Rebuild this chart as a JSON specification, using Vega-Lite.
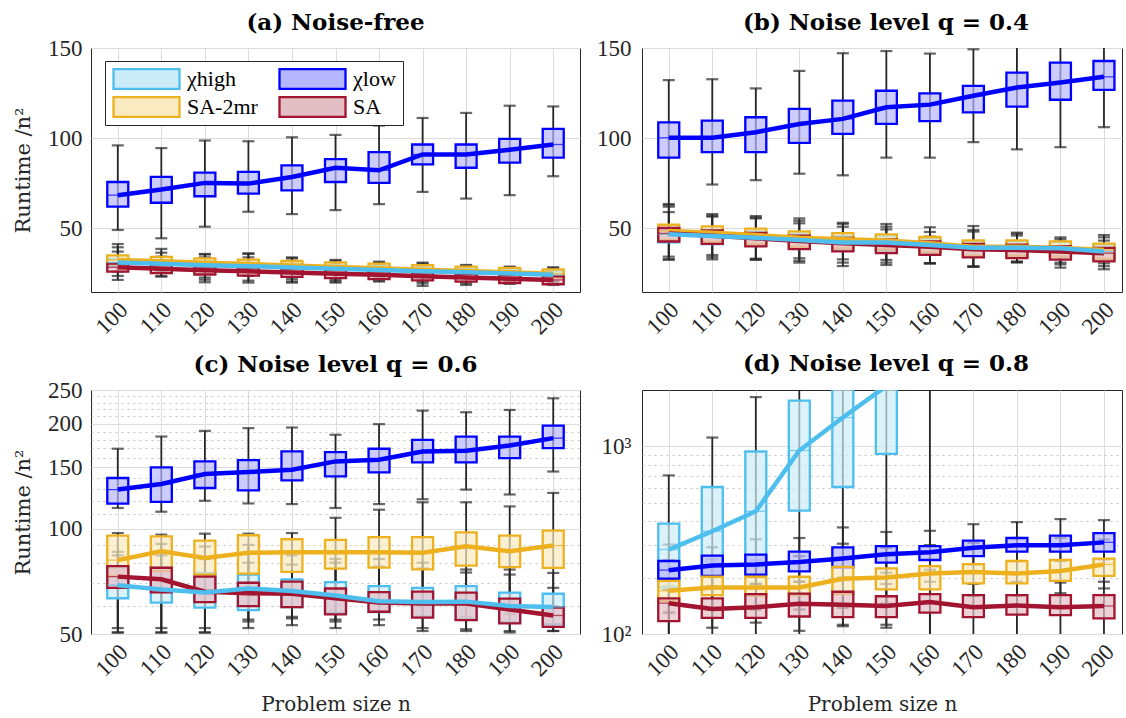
{
"$schema": "https://vega.github.io/schema/vega-lite/v6.json",
"background": "white",
"padding": {"left": 11, "top": 11, "right": 0, "bottom": 0},
"datasets": {"d": [
{"p":"a","n":100,"g":"χhigh","lo":23.6,"q1":29,"m":31,"q3":33,"hi":39.5},
{"p":"a","n":110,"g":"χhigh","lo":23.6,"q1":28.3,"m":30.3,"q3":32.3,"hi":36.5},
{"p":"a","n":120,"g":"χhigh","lo":21.5,"q1":27.6,"m":29.6,"q3":31.6,"hi":35.5},
{"p":"a","n":130,"g":"χhigh","lo":21,"q1":27,"m":29,"q3":31,"hi":35.8},
{"p":"a","n":140,"g":"χhigh","lo":20.5,"q1":26.3,"m":28.3,"q3":30.3,"hi":33.5},
{"p":"a","n":150,"g":"χhigh","lo":20.5,"q1":25.6,"m":27.6,"q3":29.6,"hi":32},
{"p":"a","n":160,"g":"χhigh","lo":21,"q1":24.9,"m":26.9,"q3":28.9,"hi":31},
{"p":"a","n":170,"g":"χhigh","lo":19.5,"q1":24.2,"m":26.2,"q3":28.2,"hi":30.5},
{"p":"a","n":180,"g":"χhigh","lo":19.5,"q1":23.6,"m":25.6,"q3":27.6,"hi":29.3},
{"p":"a","n":190,"g":"χhigh","lo":20,"q1":22.9,"m":24.9,"q3":26.9,"hi":28.4},
{"p":"a","n":200,"g":"χhigh","lo":20,"q1":22.2,"m":24.2,"q3":26.2,"hi":28},
{"p":"a","n":100,"g":"χlow","lo":49.1,"q1":62,"m":68.4,"q3":75.7,"hi":96},
{"p":"a","n":110,"g":"χlow","lo":44.5,"q1":64.2,"m":71.5,"q3":78.5,"hi":94.5},
{"p":"a","n":120,"g":"χlow","lo":50.9,"q1":67.8,"m":75.2,"q3":80.9,"hi":98.7},
{"p":"a","n":130,"g":"χlow","lo":59.2,"q1":69.3,"m":74.8,"q3":81.3,"hi":98.3},
{"p":"a","n":140,"g":"χlow","lo":57.9,"q1":71.1,"m":78.5,"q3":84.9,"hi":100.5},
{"p":"a","n":150,"g":"χlow","lo":60.1,"q1":75.7,"m":83.6,"q3":88.4,"hi":101.8},
{"p":"a","n":160,"g":"χlow","lo":63.4,"q1":75.2,"m":82.2,"q3":92.3,"hi":107},
{"p":"a","n":170,"g":"χlow","lo":70.2,"q1":85.5,"m":91,"q3":96.5,"hi":111.2},
{"p":"a","n":180,"g":"χlow","lo":66.5,"q1":83.6,"m":91,"q3":96.5,"hi":114},
{"p":"a","n":190,"g":"χlow","lo":68.4,"q1":86.4,"m":93.6,"q3":99.6,"hi":118},
{"p":"a","n":200,"g":"χlow","lo":78.9,"q1":89.2,"m":96.5,"q3":105.1,"hi":117.6},
{"p":"a","n":100,"g":"SA-2mr","lo":26,"q1":30,"m":32.5,"q3":35,"hi":41.3},
{"p":"a","n":110,"g":"SA-2mr","lo":26.4,"q1":29.2,"m":31.7,"q3":34.2,"hi":38.6},
{"p":"a","n":120,"g":"SA-2mr","lo":22.7,"q1":28.4,"m":30.9,"q3":33.4,"hi":35.8},
{"p":"a","n":130,"g":"SA-2mr","lo":23.6,"q1":27.7,"m":30.2,"q3":32.7,"hi":36.2},
{"p":"a","n":140,"g":"SA-2mr","lo":21.8,"q1":26.9,"m":29.4,"q3":31.9,"hi":33.9},
{"p":"a","n":150,"g":"SA-2mr","lo":21.4,"q1":26.1,"m":28.6,"q3":31.1,"hi":32.5},
{"p":"a","n":160,"g":"SA-2mr","lo":22.3,"q1":25.4,"m":27.9,"q3":30.4,"hi":31.5},
{"p":"a","n":170,"g":"SA-2mr","lo":20.5,"q1":24.6,"m":27.1,"q3":29.6,"hi":31},
{"p":"a","n":180,"g":"SA-2mr","lo":20.5,"q1":23.8,"m":26.3,"q3":28.8,"hi":29.7},
{"p":"a","n":190,"g":"SA-2mr","lo":20.8,"q1":23.1,"m":25.6,"q3":28.1,"hi":28.8},
{"p":"a","n":200,"g":"SA-2mr","lo":20.8,"q1":22.3,"m":24.8,"q3":27.3,"hi":28.4},
{"p":"a","n":100,"g":"SA","lo":21.4,"q1":26,"m":28.4,"q3":30.4,"hi":37.1},
{"p":"a","n":110,"g":"SA","lo":23.2,"q1":25.2,"m":27.6,"q3":29.6,"hi":34.3},
{"p":"a","n":120,"g":"SA","lo":20.1,"q1":24.4,"m":26.8,"q3":28.8,"hi":33.9},
{"p":"a","n":130,"g":"SA","lo":19.9,"q1":23.8,"m":26.2,"q3":28.2,"hi":33.9},
{"p":"a","n":140,"g":"SA","lo":19.9,"q1":23.1,"m":25.5,"q3":27.5,"hi":32.1},
{"p":"a","n":150,"g":"SA","lo":19.9,"q1":22.4,"m":24.8,"q3":26.8,"hi":30.1},
{"p":"a","n":160,"g":"SA","lo":20.5,"q1":21.8,"m":24.2,"q3":26.2,"hi":29.7},
{"p":"a","n":170,"g":"SA","lo":18.1,"q1":21.1,"m":23.5,"q3":25.5,"hi":28.8},
{"p":"a","n":180,"g":"SA","lo":18.6,"q1":20.4,"m":22.8,"q3":24.8,"hi":26.9},
{"p":"a","n":190,"g":"SA","lo":19.2,"q1":19.7,"m":22.1,"q3":24.1,"hi":26.9},
{"p":"a","n":200,"g":"SA","lo":18.6,"q1":19,"m":21.4,"q3":23.4,"hi":26},
{"p":"b","n":100,"g":"χhigh","lo":33,"q1":42.2,"m":46.7,"q3":50.2,"hi":62},
{"p":"b","n":110,"g":"χhigh","lo":34,"q1":41.3,"m":45.8,"q3":49.3,"hi":57},
{"p":"b","n":120,"g":"χhigh","lo":32.5,"q1":40.3,"m":44.8,"q3":48.3,"hi":56},
{"p":"b","n":130,"g":"χhigh","lo":31,"q1":39,"m":43.5,"q3":47,"hi":54.2},
{"p":"b","n":140,"g":"χhigh","lo":29.1,"q1":37.6,"m":42.1,"q3":45.6,"hi":52.5},
{"p":"b","n":150,"g":"χhigh","lo":29.7,"q1":37.7,"m":42.2,"q3":45.7,"hi":50.9},
{"p":"b","n":160,"g":"χhigh","lo":30.6,"q1":36.3,"m":40.8,"q3":44.3,"hi":48},
{"p":"b","n":170,"g":"χhigh","lo":28.8,"q1":34.8,"m":39.3,"q3":42.8,"hi":49},
{"p":"b","n":180,"g":"χhigh","lo":31,"q1":34.8,"m":39.3,"q3":42.8,"hi":47},
{"p":"b","n":190,"g":"χhigh","lo":28.2,"q1":34.4,"m":38.9,"q3":42.4,"hi":44},
{"p":"b","n":200,"g":"χhigh","lo":27.3,"q1":32.6,"m":37.1,"q3":40.6,"hi":45},
{"p":"b","n":100,"g":"χlow","lo":62.9,"q1":89.2,"m":100.2,"q3":108.8,"hi":132.2},
{"p":"b","n":110,"g":"χlow","lo":74.3,"q1":92.3,"m":100.2,"q3":109.7,"hi":132.7},
{"p":"b","n":120,"g":"χlow","lo":76.7,"q1":92.3,"m":103.3,"q3":111.6,"hi":127.6},
{"p":"b","n":130,"g":"χlow","lo":80.3,"q1":97.4,"m":107.9,"q3":116.2,"hi":137.3},
{"p":"b","n":140,"g":"χlow","lo":79.4,"q1":102.4,"m":110.7,"q3":120.8,"hi":147.1},
{"p":"b","n":150,"g":"χlow","lo":89.2,"q1":107.9,"m":117.1,"q3":126.3,"hi":148.3},
{"p":"b","n":160,"g":"χlow","lo":89.2,"q1":109.4,"m":118.6,"q3":124.8,"hi":146.9},
{"p":"b","n":170,"g":"χlow","lo":97.8,"q1":114.3,"m":123.5,"q3":129,"hi":149.3},
{"p":"b","n":180,"g":"χlow","lo":93.8,"q1":117.5,"m":128.1,"q3":136.4,"hi":155},
{"p":"b","n":190,"g":"χlow","lo":95,"q1":121.3,"m":130.9,"q3":141.9,"hi":158},
{"p":"b","n":200,"g":"χlow","lo":106.1,"q1":126.8,"m":134,"q3":142.8,"hi":160},
{"p":"b","n":100,"g":"SA-2mr","lo":34.3,"q1":43.5,"m":48.5,"q3":52,"hi":63.5},
{"p":"b","n":110,"g":"SA-2mr","lo":35.2,"q1":42.6,"m":47.6,"q3":51.1,"hi":57.9},
{"p":"b","n":120,"g":"SA-2mr","lo":33.2,"q1":41.3,"m":46.3,"q3":49.8,"hi":56.8},
{"p":"b","n":130,"g":"SA-2mr","lo":33.4,"q1":39.8,"m":44.8,"q3":48.3,"hi":55.5},
{"p":"b","n":140,"g":"SA-2mr","lo":32.8,"q1":38.9,"m":43.9,"q3":47.4,"hi":53.1},
{"p":"b","n":150,"g":"SA-2mr","lo":32.5,"q1":38.2,"m":43.2,"q3":46.7,"hi":52.4},
{"p":"b","n":160,"g":"SA-2mr","lo":30.6,"q1":36.7,"m":41.7,"q3":45.2,"hi":50.6},
{"p":"b","n":170,"g":"SA-2mr","lo":28.8,"q1":34.8,"m":39.8,"q3":43.3,"hi":51.3},
{"p":"b","n":180,"g":"SA-2mr","lo":31.5,"q1":34.8,"m":39.8,"q3":43.3,"hi":47.6},
{"p":"b","n":190,"g":"SA-2mr","lo":31,"q1":34.3,"m":39.3,"q3":42.8,"hi":45},
{"p":"b","n":200,"g":"SA-2mr","lo":30.6,"q1":33,"m":38,"q3":41.5,"hi":46.3},
{"p":"b","n":100,"g":"SA","lo":32.5,"q1":42.7,"m":47.2,"q3":50.2,"hi":59},
{"p":"b","n":110,"g":"SA","lo":32.8,"q1":41.4,"m":45.9,"q3":48.9,"hi":56.5},
{"p":"b","n":120,"g":"SA","lo":32.8,"q1":40,"m":44.5,"q3":47.5,"hi":55.5},
{"p":"b","n":130,"g":"SA","lo":32,"q1":38.5,"m":43,"q3":46,"hi":52.8},
{"p":"b","n":140,"g":"SA","lo":31,"q1":37.2,"m":41.7,"q3":44.7,"hi":50.9},
{"p":"b","n":150,"g":"SA","lo":31,"q1":36.3,"m":40.8,"q3":43.8,"hi":49.4},
{"p":"b","n":160,"g":"SA","lo":30.6,"q1":35.3,"m":39.8,"q3":42.8,"hi":45.4},
{"p":"b","n":170,"g":"SA","lo":28.8,"q1":33.9,"m":38.4,"q3":41.4,"hi":48.2},
{"p":"b","n":180,"g":"SA","lo":31.5,"q1":33.5,"m":38,"q3":41,"hi":46},
{"p":"b","n":190,"g":"SA","lo":30,"q1":32.6,"m":37.1,"q3":40.1,"hi":42.6},
{"p":"b","n":200,"g":"SA","lo":29,"q1":31.7,"m":36.2,"q3":39.2,"hi":43.2},
{"p":"c","n":100,"g":"χhigh","lo":50.5,"q1":63.3,"m":69,"q3":77.4,"hi":84},
{"p":"c","n":110,"g":"χhigh","lo":50.5,"q1":61.5,"m":67.1,"q3":77.4,"hi":84},
{"p":"c","n":120,"g":"χhigh","lo":50.5,"q1":59.5,"m":65.7,"q3":74.8,"hi":82},
{"p":"c","n":130,"g":"χhigh","lo":52,"q1":58.5,"m":67.5,"q3":74,"hi":80},
{"p":"c","n":140,"g":"χhigh","lo":53,"q1":59.7,"m":66.4,"q3":71.7,"hi":79},
{"p":"c","n":150,"g":"χhigh","lo":52,"q1":57.5,"m":64.5,"q3":70.4,"hi":80},
{"p":"c","n":160,"g":"χhigh","lo":53,"q1":57.8,"m":62.1,"q3":68.6,"hi":78},
{"p":"c","n":170,"g":"χhigh","lo":52,"q1":56.1,"m":61.7,"q3":67.8,"hi":77},
{"p":"c","n":180,"g":"χhigh","lo":51,"q1":55.1,"m":61.9,"q3":68.6,"hi":75},
{"p":"c","n":190,"g":"χhigh","lo":51,"q1":53.9,"m":60.1,"q3":65.7,"hi":74},
{"p":"c","n":200,"g":"χhigh","lo":51,"q1":53.3,"m":59.7,"q3":65.2,"hi":74.8},
{"p":"c","n":100,"g":"χlow","lo":114.8,"q1":118.1,"m":129.6,"q3":139.9,"hi":169.7},
{"p":"c","n":110,"g":"χlow","lo":112,"q1":119.5,"m":134.5,"q3":150,"hi":183.9},
{"p":"c","n":120,"g":"χlow","lo":120.4,"q1":131,"m":143.6,"q3":156.1,"hi":190.9},
{"p":"c","n":130,"g":"χlow","lo":118.3,"q1":128.9,"m":145.5,"q3":157.5,"hi":194.4},
{"p":"c","n":140,"g":"χlow","lo":117.8,"q1":137.7,"m":147.8,"q3":166.7,"hi":195.2},
{"p":"c","n":150,"g":"χlow","lo":114.8,"q1":141.4,"m":156.1,"q3":166,"hi":186.1},
{"p":"c","n":160,"g":"χlow","lo":117.8,"q1":145.2,"m":157.8,"q3":169.7,"hi":199.6},
{"p":"c","n":170,"g":"χlow","lo":121.6,"q1":155,"m":166.7,"q3":180,"hi":218.2},
{"p":"c","n":180,"g":"χlow","lo":129.6,"q1":155,"m":167.4,"q3":183.9,"hi":215.9},
{"p":"c","n":190,"g":"χlow","lo":125.5,"q1":159.6,"m":173.4,"q3":183.9,"hi":219.2},
{"p":"c","n":200,"g":"χlow","lo":146,"q1":170.4,"m":182,"q3":197.7,"hi":236.7},
{"p":"c","n":100,"g":"SA-2mr","lo":52,"q1":73.2,"m":81.4,"q3":95.7,"hi":97.3},
{"p":"c","n":110,"g":"SA-2mr","lo":52,"q1":75.7,"m":86.3,"q3":95.2,"hi":96.3},
{"p":"c","n":120,"g":"SA-2mr","lo":52,"q1":74,"m":82.6,"q3":92.6,"hi":96.9},
{"p":"c","n":130,"g":"SA-2mr","lo":55,"q1":74.5,"m":85.4,"q3":95.9,"hi":96.9},
{"p":"c","n":140,"g":"SA-2mr","lo":56,"q1":75.3,"m":85.8,"q3":93.4,"hi":97.3},
{"p":"c","n":150,"g":"SA-2mr","lo":55,"q1":77,"m":85.8,"q3":93,"hi":107.6},
{"p":"c","n":160,"g":"SA-2mr","lo":58,"q1":77.5,"m":85.8,"q3":94.7,"hi":113.5},
{"p":"c","n":170,"g":"SA-2mr","lo":60,"q1":76.6,"m":85.4,"q3":94.7,"hi":119.2},
{"p":"c","n":180,"g":"SA-2mr","lo":56,"q1":78.5,"m":89.2,"q3":97.8,"hi":119.2},
{"p":"c","n":190,"g":"SA-2mr","lo":57,"q1":77.7,"m":86.3,"q3":95.7,"hi":116},
{"p":"c","n":200,"g":"SA-2mr","lo":60,"q1":77.3,"m":89.6,"q3":98.9,"hi":126.8},
{"p":"c","n":100,"g":"SA","lo":50.5,"q1":67.8,"m":73,"q3":78.2,"hi":86},
{"p":"c","n":110,"g":"SA","lo":50.5,"q1":65.8,"m":71.7,"q3":77.4,"hi":90.6},
{"p":"c","n":120,"g":"SA","lo":50.5,"q1":61.7,"m":66.1,"q3":73,"hi":89},
{"p":"c","n":130,"g":"SA","lo":54.3,"q1":60.1,"m":65.4,"q3":70.1,"hi":90},
{"p":"c","n":140,"g":"SA","lo":55.4,"q1":59.7,"m":65.2,"q3":70.6,"hi":84},
{"p":"c","n":150,"g":"SA","lo":54.3,"q1":56.9,"m":63.3,"q3":67.5,"hi":82},
{"p":"c","n":160,"g":"SA","lo":55,"q1":57.9,"m":61.5,"q3":65.9,"hi":82},
{"p":"c","n":170,"g":"SA","lo":51,"q1":55.7,"m":61.1,"q3":66.1,"hi":80},
{"p":"c","n":180,"g":"SA","lo":51.6,"q1":54.8,"m":61.1,"q3":65.7,"hi":76.5},
{"p":"c","n":190,"g":"SA","lo":50.5,"q1":53.6,"m":58.8,"q3":63.1,"hi":76.5},
{"p":"c","n":200,"g":"SA","lo":51,"q1":52.4,"m":56.5,"q3":59.5,"hi":67.8},
{"p":"d","n":100,"g":"χhigh","lo":95,"q1":177,"m":282,"q3":388,"hi":701},
{"p":"d","n":110,"g":"χhigh","lo":98,"q1":204,"m":353,"q3":608,"hi":1116},
{"p":"d","n":120,"g":"χhigh","lo":98,"q1":230,"m":451,"q3":940,"hi":1833},
{"p":"d","n":130,"g":"χhigh","lo":96,"q1":455,"m":952,"q3":1757,"hi":3500},
{"p":"d","n":140,"g":"χhigh","lo":112,"q1":608,"m":1426,"q3":2600,"hi":5000},
{"p":"d","n":150,"g":"χhigh","lo":112,"q1":914,"m":2100,"q3":4000,"hi":8000},
{"p":"d","n":160,"g":"χhigh","lo":95,"q1":2600,"m":4500,"q3":8000,"hi":20000},
{"p":"d","n":170,"g":"χhigh","lo":2500,"q1":5000,"m":7000,"q3":10000,"hi":20000},
{"p":"d","n":180,"g":"χhigh","lo":3000,"q1":6000,"m":9000,"q3":13000,"hi":25000},
{"p":"d","n":190,"g":"χhigh","lo":3500,"q1":7000,"m":11000,"q3":16000,"hi":30000},
{"p":"d","n":200,"g":"χhigh","lo":4000,"q1":8000,"m":13000,"q3":19000,"hi":35000},
{"p":"d","n":100,"g":"χlow","lo":172,"q1":197,"m":219,"q3":245,"hi":300},
{"p":"d","n":110,"g":"χlow","lo":180,"q1":204,"m":232,"q3":262,"hi":290},
{"p":"d","n":120,"g":"χlow","lo":185,"q1":207,"m":235,"q3":265,"hi":320},
{"p":"d","n":130,"g":"χlow","lo":190,"q1":216,"m":242,"q3":275,"hi":325},
{"p":"d","n":140,"g":"χlow","lo":200,"q1":226,"m":253,"q3":290,"hi":370},
{"p":"d","n":150,"g":"χlow","lo":212,"q1":240,"m":266,"q3":294,"hi":350},
{"p":"d","n":160,"g":"χlow","lo":220,"q1":248,"m":273,"q3":294,"hi":355},
{"p":"d","n":170,"g":"χlow","lo":235,"q1":260,"m":288,"q3":315,"hi":385},
{"p":"d","n":180,"g":"χlow","lo":245,"q1":275,"m":297,"q3":325,"hi":395},
{"p":"d","n":190,"g":"χlow","lo":245,"q1":275,"m":297,"q3":335,"hi":410},
{"p":"d","n":200,"g":"χlow","lo":250,"q1":275,"m":308,"q3":345,"hi":405},
{"p":"d","n":100,"g":"SA-2mr","lo":130,"q1":150,"m":170,"q3":192,"hi":248},
{"p":"d","n":110,"g":"SA-2mr","lo":135,"q1":161,"m":177,"q3":202,"hi":250},
{"p":"d","n":120,"g":"SA-2mr","lo":135,"q1":160,"m":177,"q3":202,"hi":248},
{"p":"d","n":130,"g":"SA-2mr","lo":135,"q1":161,"m":177,"q3":202,"hi":260},
{"p":"d","n":140,"g":"SA-2mr","lo":138,"q1":163,"m":197,"q3":228,"hi":303},
{"p":"d","n":150,"g":"SA-2mr","lo":145,"q1":173,"m":200,"q3":224,"hi":288},
{"p":"d","n":160,"g":"SA-2mr","lo":148,"q1":173,"m":210,"q3":230,"hi":298},
{"p":"d","n":170,"g":"SA-2mr","lo":160,"q1":186,"m":214,"q3":236,"hi":306},
{"p":"d","n":180,"g":"SA-2mr","lo":160,"q1":186,"m":210,"q3":245,"hi":325},
{"p":"d","n":190,"g":"SA-2mr","lo":165,"q1":192,"m":217,"q3":248,"hi":325},
{"p":"d","n":200,"g":"SA-2mr","lo":175,"q1":204,"m":235,"q3":252,"hi":319},
{"p":"d","n":100,"g":"SA","lo":92,"q1":117,"m":146,"q3":155,"hi":180},
{"p":"d","n":110,"g":"SA","lo":108,"q1":122,"m":136,"q3":155,"hi":175},
{"p":"d","n":120,"g":"SA","lo":115,"q1":122,"m":139,"q3":163,"hi":185},
{"p":"d","n":130,"g":"SA","lo":104,"q1":124,"m":145,"q3":164,"hi":190},
{"p":"d","n":140,"g":"SA","lo":110,"q1":123,"m":143,"q3":168,"hi":195},
{"p":"d","n":150,"g":"SA","lo":108,"q1":123,"m":141,"q3":159,"hi":185},
{"p":"d","n":160,"g":"SA","lo":95,"q1":130,"m":148,"q3":163,"hi":190},
{"p":"d","n":170,"g":"SA","lo":95,"q1":123,"m":139,"q3":161,"hi":185},
{"p":"d","n":180,"g":"SA","lo":95,"q1":127,"m":142,"q3":161,"hi":190},
{"p":"d","n":190,"g":"SA","lo":95,"q1":126,"m":139,"q3":161,"hi":188},
{"p":"d","n":200,"g":"SA","lo":95,"q1":121,"m":141,"q3":161,"hi":190}
]},
"data": {"name": "d"},
"columns": 2,
"spacing": {"row": 98, "column": 62},
"bounds": "flush",
"resolve": {"scale": {"fill": "independent", "stroke": "independent", "color": "independent"}, "legend": {"fill": "independent", "stroke": "independent", "color": "independent"}},
"concat": [
{
 "title": {"text": "(a) Noise-free"},
 "width": 489, "height": 244,
 "transform": [{"filter": "datum.p == 'a'"}],
 "encoding": {"x": {"field": "n", "type": "quantitative", "scale": {"domain": [95, 205], "nice": false, "zero": false},
   "axis": {"values": [100,110,120,130,140,150,160,170,180,190,200], "labelAngle": -45, "labelAlign": "right", "labelBaseline": "middle", "labelPadding": 14, "labelOffset": 6, "title": null, "minExtent": 50, "maxExtent": 50}}},
 "layer": [
  {"mark": {"type": "rule", "color": "#262626", "strokeWidth": 1.8, "clip": true},
   "encoding": {"y": {"field": "lo", "type": "quantitative", "scale": {"domain": [14.7, 150], "nice": false, "zero": false},
     "axis": {"values": [50, 100, 150], "title": "Runtime /n²", "titlePadding": 10, "labelPadding": 9, "minExtent": 48, "maxExtent": 48}},
    "y2": {"field": "hi"}}},
  {"mark": {"type": "tick", "orient": "horizontal", "size": 12, "thickness": 2.2, "color": "#262626", "clip": true}, "encoding": {"y": {"field": "hi", "type": "quantitative"}}},
  {"mark": {"type": "tick", "orient": "horizontal", "size": 12, "thickness": 2.2, "color": "#262626", "clip": true}, "encoding": {"y": {"field": "lo", "type": "quantitative"}}},
  {"mark": {"type": "bar", "size": 21, "fillOpacity": 0.7, "strokeWidth": 2.3, "clip": true},
   "encoding": {"y": {"field": "q1", "type": "quantitative"}, "y2": {"field": "q3"},
    "fill": {"field": "g", "type": "nominal", "scale": {"domain": ["χhigh","χlow","SA-2mr","SA"], "range": ["#CCECFA","#B6B6FF","#FAEABF","#E4BEC5"]}, "legend": {"orient": "none", "legendX": 14, "legendY": 13, "columns": 2, "direction": "horizontal", "title": null}},
    "stroke": {"field": "g", "type": "nominal", "scale": {"domain": ["χhigh","χlow","SA-2mr","SA"], "range": ["#4DBEEE","#0000FF","#EDB120","#A2142F"]}, "legend": {"orient": "none", "legendX": 14, "legendY": 13, "columns": 2, "direction": "horizontal", "title": null}}}},
  {"mark": {"type": "tick", "orient": "horizontal", "size": 21, "thickness": 1.3, "clip": true},
   "encoding": {"y": {"field": "m", "type": "quantitative"}, "color": {"field": "g", "type": "nominal", "scale": {"domain": ["χhigh","χlow","SA-2mr","SA"], "range": ["#4DBEEE","#0000FF","#EDB120","#A2142F"]}, "legend": null}}},
  {"transform": [{"filter": "datum.g != 'χhigh'"}], "mark": {"type": "line", "strokeWidth": 4.5, "clip": true},
   "encoding": {"y": {"field": "m", "type": "quantitative"}, "stroke": {"field": "g", "type": "nominal", "legend": null}}},
  {"transform": [{"filter": "datum.g == 'χhigh'"}], "mark": {"type": "line", "strokeWidth": 4.5, "clip": true},
   "encoding": {"y": {"field": "m", "type": "quantitative"}, "stroke": {"field": "g", "type": "nominal", "legend": null}}}
 ]
},
{
 "title": {"text": "(b) Noise level q = 0.4", "dx": 4},
 "width": 480, "height": 244,
 "transform": [{"filter": "datum.p == 'b'"}],
 "encoding": {"x": {"field": "n", "type": "quantitative", "scale": {"domain": [95, 203], "nice": false, "zero": false},
   "axis": {"values": [100,110,120,130,140,150,160,170,180,190,200], "labelAngle": -45, "labelAlign": "right", "labelBaseline": "middle", "labelPadding": 14, "labelOffset": 6, "title": null, "minExtent": 50, "maxExtent": 50}}},
 "layer": [
  {"mark": {"type": "rule", "color": "#262626", "strokeWidth": 1.8, "clip": true},
   "encoding": {"y": {"field": "lo", "type": "quantitative", "scale": {"domain": [14.7, 150], "nice": false, "zero": false},
     "axis": {"values": [50, 100, 150], "title": null, "labelPadding": 11, "minExtent": 48, "maxExtent": 48}},
    "y2": {"field": "hi"}}},
  {"mark": {"type": "tick", "orient": "horizontal", "size": 12, "thickness": 2.2, "color": "#262626", "clip": true}, "encoding": {"y": {"field": "hi", "type": "quantitative"}}},
  {"mark": {"type": "tick", "orient": "horizontal", "size": 12, "thickness": 2.2, "color": "#262626", "clip": true}, "encoding": {"y": {"field": "lo", "type": "quantitative"}}},
  {"mark": {"type": "bar", "size": 21, "fillOpacity": 0.7, "strokeWidth": 2.3, "clip": true},
   "encoding": {"y": {"field": "q1", "type": "quantitative"}, "y2": {"field": "q3"},
    "fill": {"field": "g", "type": "nominal", "scale": {"domain": ["χhigh","χlow","SA-2mr","SA"], "range": ["#CCECFA","#B6B6FF","#FAEABF","#E4BEC5"]}, "legend": null},
    "stroke": {"field": "g", "type": "nominal", "scale": {"domain": ["χhigh","χlow","SA-2mr","SA"], "range": ["#4DBEEE","#0000FF","#EDB120","#A2142F"]}, "legend": null}}},
  {"mark": {"type": "tick", "orient": "horizontal", "size": 21, "thickness": 1.3, "clip": true},
   "encoding": {"y": {"field": "m", "type": "quantitative"}, "color": {"field": "g", "type": "nominal", "scale": {"domain": ["χhigh","χlow","SA-2mr","SA"], "range": ["#4DBEEE","#0000FF","#EDB120","#A2142F"]}, "legend": null}}},
  {"transform": [{"filter": "datum.g != 'χhigh'"}], "mark": {"type": "line", "strokeWidth": 4.5, "clip": true},
   "encoding": {"y": {"field": "m", "type": "quantitative"}, "stroke": {"field": "g", "type": "nominal", "legend": null}}},
  {"transform": [{"filter": "datum.g == 'χhigh'"}], "mark": {"type": "line", "strokeWidth": 4.5, "clip": true},
   "encoding": {"y": {"field": "m", "type": "quantitative"}, "stroke": {"field": "g", "type": "nominal", "legend": null}}}
 ]
},
{
 "title": {"text": "(c) Noise level q = 0.6"},
 "width": 489, "height": 244,
 "transform": [{"filter": "datum.p == 'c'"}],
 "encoding": {"x": {"field": "n", "type": "quantitative", "scale": {"domain": [95, 205], "nice": false, "zero": false},
   "axis": {"values": [100,110,120,130,140,150,160,170,180,190,200], "labelAngle": -45, "labelAlign": "right", "labelBaseline": "middle", "labelPadding": 14, "labelOffset": 6, "title": "Problem size n", "titlePadding": 10, "minExtent": 50, "maxExtent": 50}}},
 "layer": [
  {"mark": {"type": "rule", "color": "#262626", "strokeWidth": 1.8, "clip": true},
   "encoding": {"y": {"field": "lo", "type": "quantitative", "scale": {"type": "log", "domain": [50, 250], "nice": false},
     "axis": {"values": [50,60,70,80,90,100,110,120,130,140,150,160,170,180,190,200,210,220,230,240,250],
      "labelExpr": "indexof([50,100,150,200,250], datum.value) >= 0 ? datum.label : ''",
      "gridDash": {"condition": {"test": "indexof([50,100,150,200,250], datum.value) >= 0", "value": []}, "value": [2, 4]},
      "gridColor": {"condition": {"test": "indexof([50,100,150,200,250], datum.value) >= 0", "value": "#dcdcdc"}, "value": "#c4c4c4"},
      "title": "Runtime /n²", "titlePadding": 10, "labelPadding": 9, "minExtent": 48, "maxExtent": 48}},
    "y2": {"field": "hi"}}},
  {"mark": {"type": "tick", "orient": "horizontal", "size": 12, "thickness": 2.2, "color": "#262626", "clip": true}, "encoding": {"y": {"field": "hi", "type": "quantitative"}}},
  {"mark": {"type": "tick", "orient": "horizontal", "size": 12, "thickness": 2.2, "color": "#262626", "clip": true}, "encoding": {"y": {"field": "lo", "type": "quantitative"}}},
  {"mark": {"type": "bar", "size": 21, "fillOpacity": 0.7, "strokeWidth": 2.3, "clip": true},
   "encoding": {"y": {"field": "q1", "type": "quantitative"}, "y2": {"field": "q3"},
    "fill": {"field": "g", "type": "nominal", "scale": {"domain": ["χhigh","χlow","SA-2mr","SA"], "range": ["#CCECFA","#B6B6FF","#FAEABF","#E4BEC5"]}, "legend": null},
    "stroke": {"field": "g", "type": "nominal", "scale": {"domain": ["χhigh","χlow","SA-2mr","SA"], "range": ["#4DBEEE","#0000FF","#EDB120","#A2142F"]}, "legend": null}}},
  {"mark": {"type": "tick", "orient": "horizontal", "size": 21, "thickness": 1.3, "clip": true},
   "encoding": {"y": {"field": "m", "type": "quantitative"}, "color": {"field": "g", "type": "nominal", "scale": {"domain": ["χhigh","χlow","SA-2mr","SA"], "range": ["#4DBEEE","#0000FF","#EDB120","#A2142F"]}, "legend": null}}},
  {"transform": [{"filter": "datum.g != 'χhigh'"}], "mark": {"type": "line", "strokeWidth": 4.5, "clip": true},
   "encoding": {"y": {"field": "m", "type": "quantitative"}, "stroke": {"field": "g", "type": "nominal", "legend": null}}},
  {"transform": [{"filter": "datum.g == 'χhigh'"}], "mark": {"type": "line", "strokeWidth": 4.5, "clip": true},
   "encoding": {"y": {"field": "m", "type": "quantitative"}, "stroke": {"field": "g", "type": "nominal", "legend": null}}}
 ]
},
{
 "title": {"text": "(d) Noise level q = 0.8", "dx": 4, "offset": 14},
 "width": 480, "height": 244,
 "transform": [{"filter": "datum.p == 'd'"}],
 "encoding": {"x": {"field": "n", "type": "quantitative", "scale": {"domain": [95, 203], "nice": false, "zero": false},
   "axis": {"values": [100,110,120,130,140,150,160,170,180,190,200], "labelAngle": -45, "labelAlign": "right", "labelBaseline": "middle", "labelPadding": 14, "labelOffset": 6, "title": "Problem size n", "titlePadding": 10, "minExtent": 50, "maxExtent": 50}}},
 "layer": [
  {"mark": {"type": "rule", "color": "#262626", "strokeWidth": 1.8, "clip": true},
   "encoding": {"y": {"field": "lo", "type": "quantitative", "scale": {"type": "log", "domain": [100, 2000], "nice": false},
     "axis": {"values": [100,200,300,400,500,600,700,800,900,1000],
      "labelExpr": "datum.value == 100 ? '10²' : datum.value == 1000 ? '10³' : ''",
      "gridDash": {"condition": {"test": "datum.value == 100 || datum.value == 1000", "value": []}, "value": [2, 4]},
      "gridColor": {"condition": {"test": "datum.value == 100 || datum.value == 1000", "value": "#dcdcdc"}, "value": "#c4c4c4"},
      "title": null, "labelPadding": 11, "minExtent": 48, "maxExtent": 48}},
    "y2": {"field": "hi"}}},
  {"mark": {"type": "tick", "orient": "horizontal", "size": 12, "thickness": 2.2, "color": "#262626", "clip": true}, "encoding": {"y": {"field": "hi", "type": "quantitative"}}},
  {"mark": {"type": "tick", "orient": "horizontal", "size": 12, "thickness": 2.2, "color": "#262626", "clip": true}, "encoding": {"y": {"field": "lo", "type": "quantitative"}}},
  {"mark": {"type": "bar", "size": 21, "fillOpacity": 0.7, "strokeWidth": 2.3, "clip": true},
   "encoding": {"y": {"field": "q1", "type": "quantitative"}, "y2": {"field": "q3"},
    "fill": {"field": "g", "type": "nominal", "scale": {"domain": ["χhigh","χlow","SA-2mr","SA"], "range": ["#CCECFA","#B6B6FF","#FAEABF","#E4BEC5"]}, "legend": null},
    "stroke": {"field": "g", "type": "nominal", "scale": {"domain": ["χhigh","χlow","SA-2mr","SA"], "range": ["#4DBEEE","#0000FF","#EDB120","#A2142F"]}, "legend": null}}},
  {"mark": {"type": "tick", "orient": "horizontal", "size": 21, "thickness": 1.3, "clip": true},
   "encoding": {"y": {"field": "m", "type": "quantitative"}, "color": {"field": "g", "type": "nominal", "scale": {"domain": ["χhigh","χlow","SA-2mr","SA"], "range": ["#4DBEEE","#0000FF","#EDB120","#A2142F"]}, "legend": null}}},
  {"transform": [{"filter": "datum.g != 'χhigh'"}], "mark": {"type": "line", "strokeWidth": 4.5, "clip": true},
   "encoding": {"y": {"field": "m", "type": "quantitative"}, "stroke": {"field": "g", "type": "nominal", "legend": null}}},
  {"transform": [{"filter": "datum.g == 'χhigh'"}], "mark": {"type": "line", "strokeWidth": 4.5, "clip": true},
   "encoding": {"y": {"field": "m", "type": "quantitative"}, "stroke": {"field": "g", "type": "nominal", "legend": null}}}
 ]
}
],
"config": {
 "view": {"stroke": "#262626", "strokeWidth": 1},
 "font": "DejaVu Serif",
 "axis": {"labelFont": "Liberation Serif", "labelFontSize": 23, "labelColor": "#262626", "titleFont": "DejaVu Serif", "titleFontSize": 20, "titleFontWeight": "normal", "titleColor": "#262626", "domain": false, "ticks": false, "grid": true, "gridColor": "#dcdcdc", "gridWidth": 1},
 "axisY": {"titleFontSize": 21},
 "title": {"font": "DejaVu Serif", "fontSize": 23, "fontWeight": "bold", "color": "#000000", "anchor": "middle", "offset": 2, "baseline": "bottom"},
 "legend": {"symbolType": "M-1,-0.303H1V0.303H-1Z", "symbolSize": 4356, "clipHeight": 22, "symbolStrokeWidth": 2.3, "labelFont": "Liberation Serif", "labelFontSize": 22, "labelColor": "#000000", "labelOffset": 6, "columnPadding": 20, "rowPadding": 6, "padding": 7, "strokeColor": "#262626", "fillColor": "white", "cornerRadius": 0}
}
}
